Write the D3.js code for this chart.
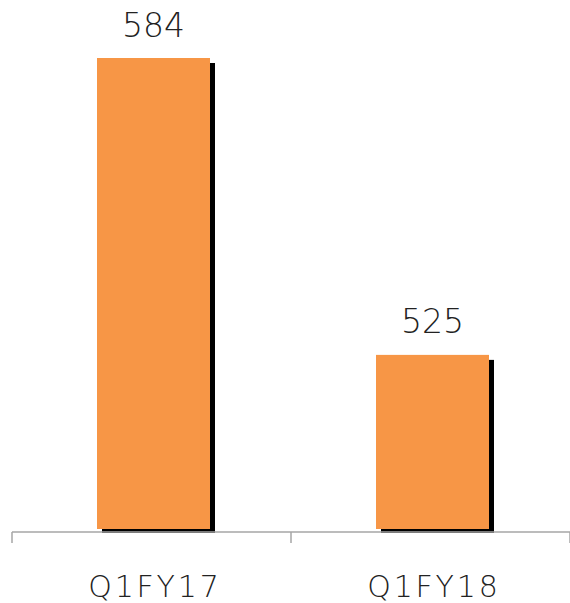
<!DOCTYPE html>
<html><head><meta charset="utf-8">
<script src="https://cdn.jsdelivr.net/npm/d3@7"></script>
<style>body{margin:0;background:#fff}svg{display:block}</style>
</head><body>
<script>
const categories = ["Q1FY17", "Q1FY18"];
const values = [584, 525];

const W = 570, H = 603;
const svg = d3.select("body").append("svg").attr("width", W).attr("height", H);

// axis band scale (category slots) and bar scale
const xAxis = d3.scaleBand().domain(categories).range([12, 570]).padding(0);
const x = d3.scaleBand().domain(categories).range([14, 572]).paddingInner(0.595).paddingOuter(0.2975);
const y = d3.scaleLinear().domain([490, 584]).range([531, 58]);

const fontFam = "'DejaVu Sans', sans-serif";

// shadows
svg.selectAll("rect.sh").data(values).enter().append("rect")
  .attr("class", "sh")
  .attr("x", (d, i) => x(categories[i]) + 5)
  .attr("y", d => y(d) + 5)
  .attr("width", x.bandwidth())
  .attr("height", d => y.range()[0] + 2 - y(d) - 5)
  .attr("fill", "#000");

// bars
svg.selectAll("rect.bar").data(values).enter().append("rect")
  .attr("class", "bar")
  .attr("x", (d, i) => x(categories[i]))
  .attr("y", d => y(d))
  .attr("width", x.bandwidth())
  .attr("height", d => y.range()[0] - 2 - y(d))
  .attr("fill", "#F79646");

// axis
const axisG = svg.append("g").attr("transform", "translate(0,532)");
axisG.append("line").attr("x1", xAxis.range()[0]).attr("x2", xAxis.range()[1]).attr("y1", 0).attr("y2", 0)
  .attr("stroke", "#a6a6a6").attr("stroke-width", 1.5);
const tickXs = categories.map(c => xAxis(c)).concat([xAxis.range()[1]]);
axisG.selectAll("line.t").data(tickXs).enter().append("line")
  .attr("x1", d => d).attr("x2", d => d).attr("y1", 0).attr("y2", 11)
  .attr("stroke", "#a6a6a6").attr("stroke-width", 1.5);

// category labels
svg.selectAll("text.cat").data(categories).enter().append("text")
  .attr("x", d => x(d) + x.bandwidth() / 2 + 1.4)
  .attr("y", 597)
  .attr("text-anchor", "middle")
  .attr("font-family", fontFam)
  .attr("font-size", 30)
  .attr("font-weight", 300)
  .attr("letter-spacing", 2.8)
  .attr("fill", "#222")
  .text(d => d);

// value labels
svg.selectAll("text.val").data(values).enter().append("text")
  .attr("x", (d, i) => x(categories[i]) + x.bandwidth() / 2)
  .attr("y", d => y(d) - 21.5)
  .attr("text-anchor", "middle")
  .attr("font-family", fontFam)
  .attr("font-size", 33)
  .attr("font-weight", 300)
  .attr("fill", "#222")
  .text(d => d);
</script>
</body></html>
